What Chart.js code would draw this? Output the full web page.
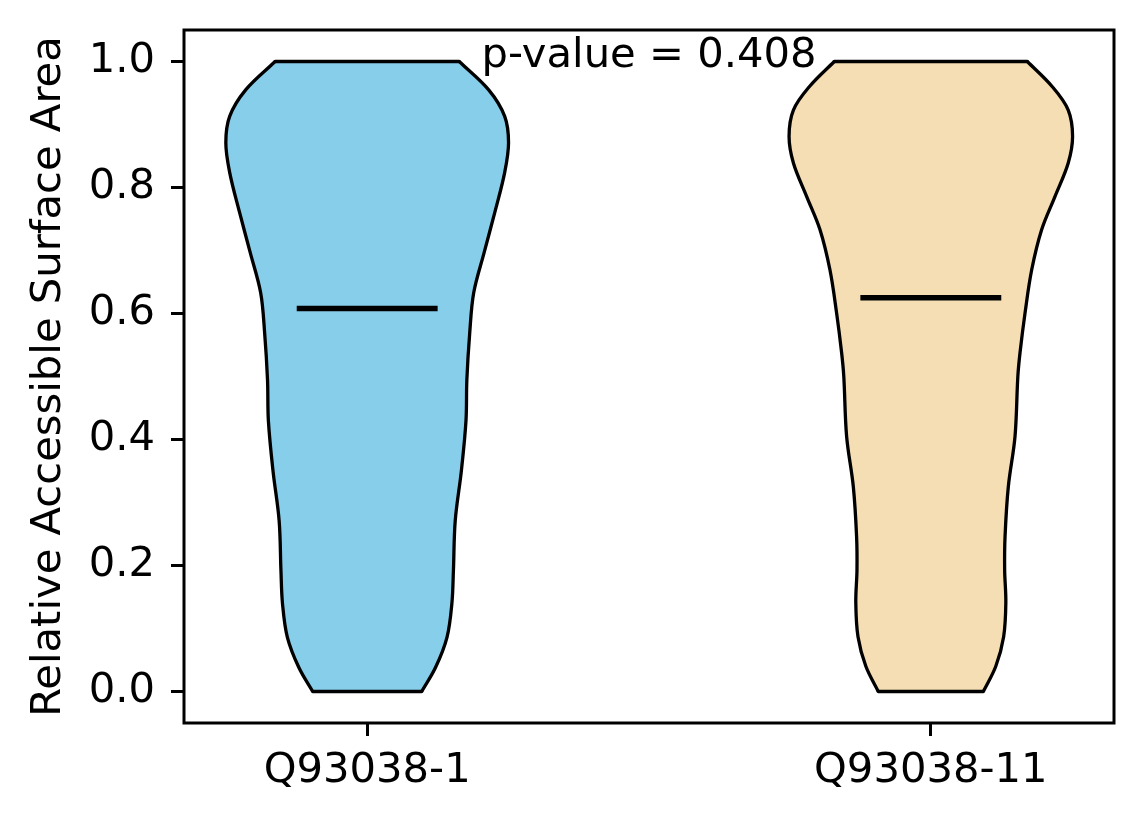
<!DOCTYPE html>
<html lang="en">
<head>
<meta charset="UTF-8">
<title>Violin Plot</title>
<script src="https://cdn.jsdelivr.net/npm/chart.js"></script>
<style>
  body { margin: 0; background: #fff; }
  #wrap { width: 1144px; height: 824px; }
</style>
</head>
<body>
<div id="wrap"><canvas id="violin" width="1144" height="824"></canvas></div>
<script>
const categories = ['Q93038-1', 'Q93038-11'];
const positions = [1, 2];
const yTickValues = [0, 0.2, 0.4, 0.6, 0.8, 1.0];
const violinColors = ['#87CEEB', '#F5DEB3'];

// outline: y value and half-width (x units) of each violin
const q1Y    = [0.000, 0.038, 0.086, 0.140, 0.192, 0.271, 0.351, 0.430, 0.494, 0.569, 0.633, 0.697, 0.760, 0.824, 0.871, 0.913, 0.955, 1.000];
const q1Half = [0.0967, 0.1212, 0.1416, 0.1503, 0.1530, 0.1562, 0.1672, 0.1753, 0.1768, 0.1819, 0.1890, 0.2076, 0.2263, 0.2440, 0.2508, 0.2440, 0.2156, 0.1633];
const q11Y    = [0.000, 0.040, 0.087, 0.141, 0.193, 0.246, 0.325, 0.405, 0.500, 0.538, 0.601, 0.669, 0.733, 0.786, 0.839, 0.881, 0.923, 0.960, 1.000];
const q11Half = [0.0932, 0.1153, 0.1292, 0.1331, 0.1310, 0.1317, 0.1375, 0.1494, 0.1544, 0.1583, 0.1672, 0.1789, 0.1966, 0.2204, 0.2438, 0.2515, 0.2438, 0.2156, 0.1713];
const medians = [0.608, 0.625];
const medianHalf = 0.125;
const pValueText = 'p-value = 0.408';

const font = {family: '"DejaVu Sans", sans-serif', size: 41.7};

function edgeStyle(extra) {
    return Object.assign({
        borderColor: '#000',
        borderWidth: 3.3,
        pointRadius: 0,
        fill: false,
        tension: 0,
        borderJoinStyle: 'round'
    }, extra);
}

function violinSets(pos, ys, half, color) {
    const last = ys.length - 1;
    return [
        edgeStyle({data: ys.map((y, i) => ({x: pos + half[i], y: y})), tension: 0.35}),
        edgeStyle({data: ys.map((y, i) => ({x: pos - half[i], y: y})), tension: 0.35,
                   backgroundColor: color, fill: '-1'}),
        edgeStyle({data: [{x: pos - half[0], y: ys[0]}, {x: pos + half[0], y: ys[0]}], borderCapStyle: 'round'}),
        edgeStyle({data: [{x: pos - half[last], y: ys[last]}, {x: pos + half[last], y: ys[last]}], borderCapStyle: 'round'})
    ];
}

const datasets = [
    ...violinSets(positions[0], q1Y, q1Half, violinColors[0]),
    ...violinSets(positions[1], q11Y, q11Half, violinColors[1])
];
medians.forEach((m, i) => {
    datasets.push(edgeStyle({
        data: [{x: positions[i] - medianHalf, y: m}, {x: positions[i] + medianHalf, y: m}],
        borderWidth: 5.5
    }));
});

const frameAndNote = {
    id: 'frameAndNote',
    afterDatasetsDraw(chart) {
        const {ctx, chartArea: a, scales: {x, y}} = chart;
        ctx.save();
        ctx.fillStyle = '#000';
        ctx.font = '41.7px "DejaVu Sans", sans-serif';
        ctx.textAlign = 'center';
        ctx.textBaseline = 'alphabetic';
        ctx.fillText(pValueText, x.getPixelForValue(1.5), y.getPixelForValue(0.991));
        ctx.lineWidth = 3;
        ctx.strokeStyle = '#000';
        ctx.strokeRect(a.left, a.top, a.right - a.left, a.bottom - a.top);
        ctx.restore();
    }
};

const tickGrid = {drawOnChartArea: false, drawTicks: true, tickLength: 13, lineWidth: 3, color: '#000'};

new Chart(document.getElementById('violin'), {
    type: 'line',
    data: {datasets: datasets},
    plugins: [frameAndNote],
    options: {
        responsive: false,
        devicePixelRatio: 1,
        animation: false,
        indexAxis: 'y',
        layout: {padding: {top: 30, right: 30, left: 0, bottom: 0}},
        plugins: {
            legend: {display: false},
            tooltip: {enabled: false},
            filler: {drawTime: 'beforeDatasetsDraw'}
        },
        scales: {
            x: {
                type: 'linear',
                position: 'bottom',
                min: 0.675,
                max: 2.325,
                afterBuildTicks: s => { s.ticks = positions.map(v => ({value: v})); },
                afterFit: s => { s.height = 101; s.paddingLeft = 0; s.paddingRight = 0; },
                ticks: {
                    callback: v => categories[positions.indexOf(v)],
                    color: '#000', font: font, padding: 10, maxRotation: 0, autoSkip: false
                },
                grid: tickGrid,
                border: {display: false}
            },
            y: {
                type: 'linear',
                position: 'left',
                min: -0.05,
                max: 1.05,
                afterBuildTicks: s => { s.ticks = yTickValues.map(v => ({value: v})); },
                afterFit: s => { s.width = 184; s.paddingTop = 0; s.paddingBottom = 0; },
                ticks: {
                    callback: v => v.toFixed(1),
                    color: '#000', font: font, padding: 16
                },
                title: {
                    display: true,
                    text: 'Relative Accessible Surface Area',
                    color: '#000', font: font,
                    padding: {top: 24, bottom: 0}
                },
                grid: tickGrid,
                border: {display: false}
            }
        }
    }
});
</script>
</body>
</html>
